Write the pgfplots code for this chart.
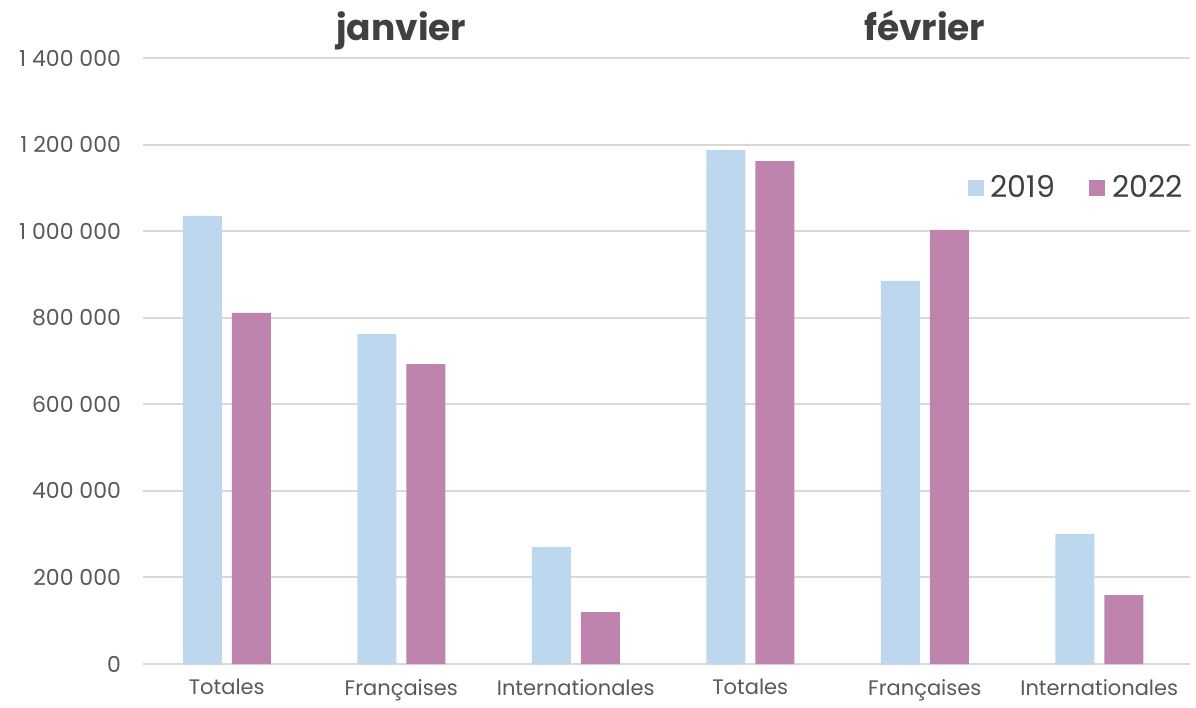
\documentclass[border=0pt]{standalone}
\usepackage{pgfplots}
\pgfplotsset{compat=1.18}
\usepackage{fontspec}
\setmainfont{Poppins}
\definecolor{c19}{HTML}{BDD7EE}
\definecolor{c22}{HTML}{BF84AE}
\definecolor{gridc}{HTML}{D9D9D9}
\definecolor{txt}{HTML}{595959}
\definecolor{ttl}{HTML}{404040}

\pgfplotstableread{
x  y
0  1035000
1  762000
2  270000
3  1187000
4  885000
5  300000
}\dataA
\pgfplotstableread{
x  y
0  811000
1  693000
2  120000
3  1162000
4  1003000
5  159000
}\dataB

\begin{document}
\begin{tikzpicture}
\begin{axis}[
  scale only axis,
  width=523.5pt, height=303pt,
  ybar=5pt, bar width=19.5pt,
  xmin=-0.48, xmax=5.52,
  ymin=0, ymax=1400000,
  ytick={0,200000,...,1400000},
  xtick={0,...,5},
  xticklabels={Totales,Françaises,Internationales,Totales,Françaises,Internationales},
  axis x line=bottom, axis y line=left,
  x axis line style={gridc, line width=1pt, -},
  y axis line style={draw=none},
  ymajorgrids, grid style={gridc, line width=1pt},
  major tick length=0pt,
  tick label style={font=\fontsize{10.5pt}{12pt}\selectfont, text=txt},
  yticklabel style={font=\fontsize{11pt}{13pt}\selectfont, xshift=-7.5pt},
  xticklabel style={yshift=-4pt},
  scaled y ticks=false,
  yticklabel={\pgfmathprintnumber[assume math mode=true, 1000 sep={\ }, fixed, precision=0]{\tick}},
  legend style={at={(1.003,0.785)}, anchor=east, draw=none, fill=none,
    font=\fontsize{15pt}{17pt}\selectfont, text=ttl, legend columns=2,
    /tikz/every odd column/.append style={column sep=1.5pt},
    /tikz/every even column/.append style={column sep=15pt}},
  legend image code/.code={\fill[#1] (0pt,-4pt) rectangle (8pt,4pt);},
  clip=false,
]
\addplot[fill=c19, draw=none] table {\dataA};
\addplot[fill=c22, draw=none] table {\dataB};
\legend{2019,2022}
\node[font=\bfseries\fontsize{18pt}{22pt}\selectfont, text=ttl, anchor=base] at (axis cs:1,1400000) [yshift=9pt] {janvier};
\node[font=\bfseries\fontsize{18pt}{22pt}\selectfont, text=ttl, anchor=base] at (axis cs:4,1400000) [yshift=9pt] {février};
\end{axis}
\useasboundingbox (-71.5pt,-19.5pt) rectangle (526.5pt,332pt);
\end{tikzpicture}
\end{document}
